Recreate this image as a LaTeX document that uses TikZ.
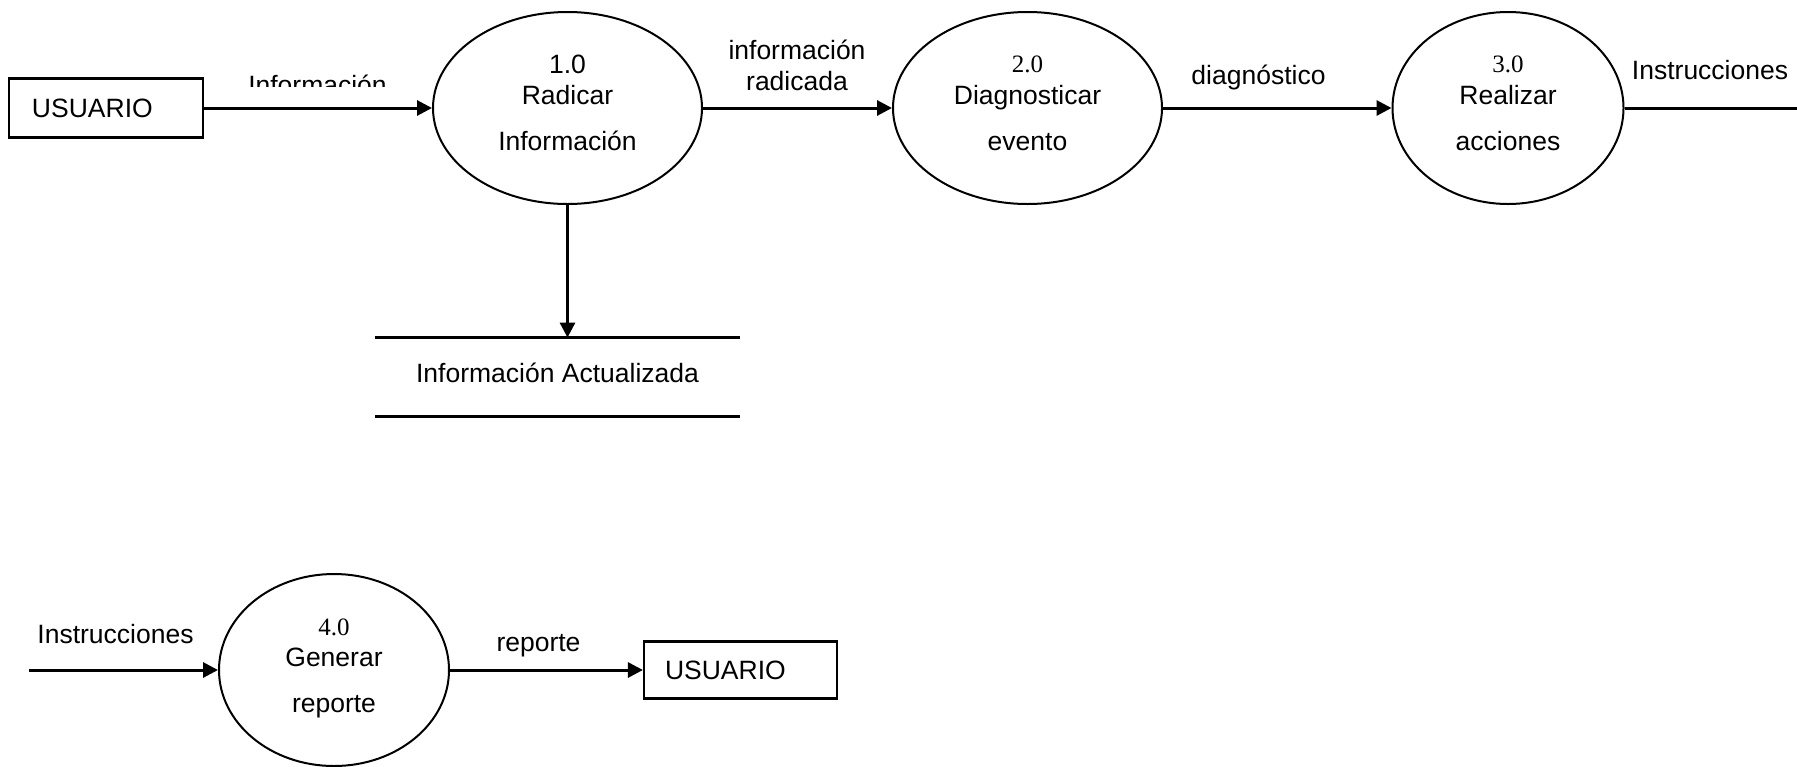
\documentclass[tikz,border=0pt]{standalone}
\usepackage{fontspec}
\setmainfont{Liberation Sans}
\newfontfamily\timesf{Liberation Serif}
\usetikzlibrary{shapes.geometric,arrows.meta}
\tikzset{
  proc/.style={draw, ellipse, line width=1pt, inner sep=0pt, minimum height=96pt},
  ent/.style={draw, rectangle, line width=1.1pt, align=left, inner ysep=0pt},
  flow/.style={line width=1.5pt, -{Triangle[length=7.5pt,width=7.5pt]}},
  plain/.style={line width=1.5pt},
  txt/.style={anchor=base, inner sep=0pt},
  num/.style={anchor=base, inner sep=0pt, font=\timesf\fontsize{12.5}{14}\selectfont},
  storebox/.style={minimum width=182.5pt, minimum height=39pt, inner sep=0pt, text height=5pt, text depth=0pt},
  storeline/.style={line width=1.3pt}
}
\begin{document}
\begin{tikzpicture}[x=0.5pt, y=-0.5pt, font=\fontsize{13.25}{15}\selectfont]
\useasboundingbox (0,0) rectangle (1797,766);

% entities
\node[ent, text width=74pt, inner xsep=11.5pt, minimum height=29.5pt] (u1) at (106,108) {USUARIO};
\node[ent, text width=75.5pt, inner xsep=10.5pt, minimum height=28.5pt] (u2) at (740.5,670) {USUARIO};

% processes
\node[proc, minimum width=134.5pt] (p1) at (567.5,108) {};
\node[proc, minimum width=134.5pt] (p2) at (1027.5,108) {};
\node[proc, minimum width=115.5pt] (p3) at (1508,108) {};
\node[proc, minimum width=115pt] (p4) at (334,670) {};

% process texts
\node[txt] (t1a) at (567.5,73) {1.0};
\node[txt] (t1b) at (567.5,104) {Radicar};
\node[txt] (t1c) at (567.5,150) {Información};

\node[num] (t2a) at (1027.5,72) {2.0};
\node[txt] (t2b) at (1027.5,104) {Diagnosticar};
\node[txt] (t2c) at (1027.5,150) {evento};

\node[num] (t3a) at (1508,72) {3.0};
\node[txt] (t3b) at (1508,104) {Realizar};
\node[txt] (t3c) at (1508,150) {acciones};

\node[num] (t4a) at (334,635) {4.0};
\node[txt] (t4b) at (334,666) {Generar};
\node[txt] (t4c) at (334,712) {reporte};

% data store
\node[storebox] (ds) at (557.5,377) {Información Actualizada};
\draw[storeline] (ds.north west) -- (ds.north east);
\draw[storeline] (ds.south west) -- (ds.south east);

% free ends
\coordinate (out3) at (1797,108);
\coordinate (in4) at (29,670);

% flows
\draw[flow] (u1) -- (p1);
\draw[flow] (p1) -- (p2);
\draw[flow] (p2) -- (p3);
\draw[plain] (p3) -- (out3);
\draw[flow] (p1.south) -- (p1.south |- ds.north);
\draw[flow] (in4) -- (p4);
\draw[flow] (p4) -- (u2);

% flow labels
\begin{scope}
  \clip (240,60) rectangle (400,86);
  \node[txt] (l1) at (317.5,94) {Información};
\end{scope}
\node[txt] (l2a) at (797,59) {información};
\node[txt] (l2b) at (797,90) {radicada};
\node[txt] (l3) at (1258.5,84) {diagnóstico};
\node[txt] (l4) at (1710,79) {Instrucciones};
\node[txt] (l5) at (115.5,643) {Instrucciones};
\node[txt] (l6) at (538.5,651) {reporte};
\end{tikzpicture}
\end{document}
